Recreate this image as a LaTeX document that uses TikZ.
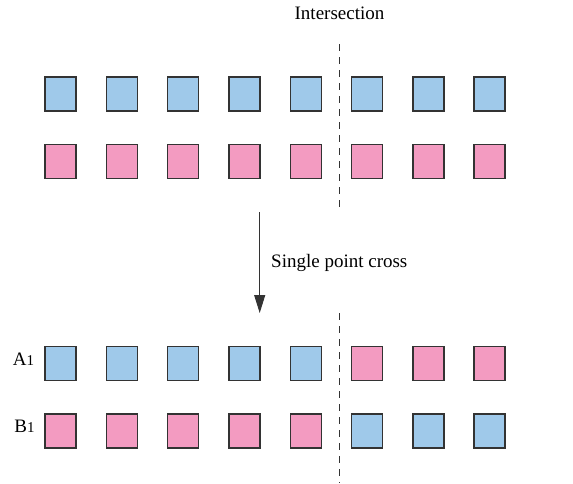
\documentclass[tikz,border=0pt]{standalone}
\usepackage{fontspec}
\setmainfont{Liberation Serif}
\usetikzlibrary{arrows.meta}
\definecolor{geneblue}{HTML}{9FC9EA}
\definecolor{genepink}{HTML}{F39BC1}
\definecolor{edgegray}{HTML}{333333}
\begin{document}
\begin{tikzpicture}[x=1pt,y=-1pt,
  gene/.style={rectangle,draw=edgegray,line width=1.4pt,minimum width=31pt,minimum height=34pt,inner sep=0pt},
  bgene/.style={gene,fill=geneblue},
  pgene/.style={gene,fill=genepink},
  cutline/.style={draw=edgegray,line width=1pt,dash pattern=on 7pt off 6pt},
  lbl/.style={font=\fontsize{19}{22}\selectfont,text=black,inner sep=0pt}]
\useasboundingbox (0,0) rectangle (573,483);
% parent chromosomes
\foreach \i in {1,...,8} {
  \pgfmathsetmacro{\xx}{60.5+61.3*(\i-1)}
  \node[bgene] (a\i) at (\xx,94) {};
  \node[pgene] (b\i) at (\xx,161.7) {};
}
% offspring chromosomes after crossover
\foreach \i in {1,...,5} {
  \pgfmathsetmacro{\xx}{60.5+61.3*(\i-1)}
  \node[bgene] (c\i) at (\xx,363.5) {};
  \node[pgene] (d\i) at (\xx,430.8) {};
}
\foreach \i in {6,...,8} {
  \pgfmathsetmacro{\xx}{60.5+61.3*(\i-1)}
  \node[pgene] (c\i) at (\xx,363.5) {};
  \node[bgene] (d\i) at (\xx,430.8) {};
}
% crossover point
\coordinate (cutA) at (339.3,44);
\coordinate (cutB) at (339.3,212);
\coordinate (cutC) at (339.3,313);
\coordinate (cutD) at (339.3,483);
\draw[cutline] (cutA) -- (cutB);
\draw[cutline] (cutC) -- (cutD);
\node[lbl] (inter) at (339.5,13) {Intersection};
% operation arrow
\coordinate (arrS) at (259.7,212);
\coordinate (arrE) at (259.7,313);
\draw[edgegray,line width=1pt,-{Triangle[length=18pt,width=11pt]}] (arrS) -- (arrE);
\node[lbl,anchor=west] (spc) at (271,263) {Single point cross};
% row labels
\node[lbl] (la) at (23.5,359) {A{\fontsize{15}{18}\selectfont 1}};
\node[lbl] (lb) at (24.5,426.5) {B{\fontsize{15}{18}\selectfont 1}};
\end{tikzpicture}
\end{document}
